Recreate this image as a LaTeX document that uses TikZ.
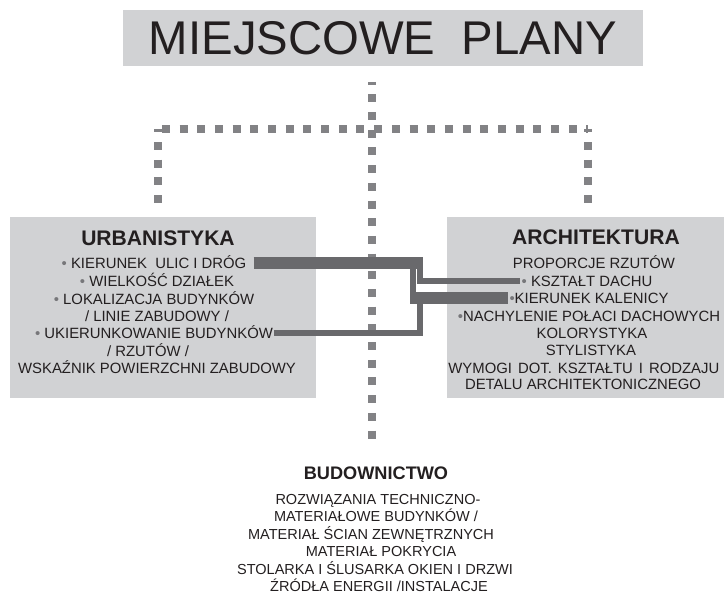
\documentclass[tikz,border=0pt]{standalone}
\usepackage{fontspec}
\setmainfont{Liberation Sans}
\usepackage{xcolor}
\usetikzlibrary{calc}

\definecolor{panelgray}{HTML}{D1D2D4}
\definecolor{dotgray}{HTML}{828285}
\definecolor{bargray}{HTML}{69696C}
\definecolor{inkgray}{HTML}{231F20}
\definecolor{bulletgray}{HTML}{77777A}
\newcommand{\pxu}{0.03cm}
\newcommand{\bul}{{\color{bulletgray}\textbullet}}
\newcommand{\wsp}{\ \hspace{1.6pt}}

\tikzset{
  panel/.style={fill=panelgray, inner sep=0pt},
  headline/.style={font=\fontsize{18}{20}\selectfont\bfseries, text=inkgray, text height=12.9pt, text depth=0pt, inner sep=0pt},
  itemline/.style={font=\fontsize{12.7}{14}\selectfont, text=inkgray, text height=9.1pt, text depth=0pt, inner sep=1pt},
  budline/.style={itemline, font=\fontsize{12.4}{14}\selectfont, text height=8.9pt},
  dotline/.style={dotgray, line width=6.8pt, dash pattern=on 6.8pt off 8.3pt},
  bar/.style={bargray, line width=5.1pt},
  thickbar/.style={bargray, line width=10.2pt},
}

\begin{document}
\begin{tikzpicture}[x=\pxu, y=-\pxu]
    \useasboundingbox (0,0) rectangle (724,594);
    \clip (0,0) rectangle (724,594);

    % title and panels
    \node[panel, minimum width=520*\pxu, minimum height=56*\pxu, text=inkgray, font=\fontsize{40.4}{44}\selectfont, text height=28.9pt, text depth=0pt] (title) at (383,38) {MIEJSCOWE\hspace{0.556em}PLANY};
    \node[panel, minimum width=306*\pxu, minimum height=181*\pxu] (urb) at (163,307.5) {};
    \node[panel, minimum width=283*\pxu, minimum height=181*\pxu] (arch) at (588.5,307.5) {};

    % dotted tree
    \coordinate (spineTop) at (372,82);
    \coordinate (spineEnd) at (372,441);
    \coordinate (railL) at (158,129);
    \coordinate (railR) at (588,129);
    \coordinate (dropL) at (158,204);
    \coordinate (dropR) at (588,204);
    \draw[dotline, dash phase=4.5pt] (spineTop) -- (spineEnd);
    \draw[dotline, dash phase=11.8pt] (railL) -- (railR);
    \draw[dotline, dash phase=4pt] (railL) -- (dropL);
    \draw[dotline, dash phase=4pt] (railR) -- (dropR);

    % urbanistyka
    \node[headline] (urbh) at (158,238) {URBANISTYKA};
    \node[itemline] (ulic) at (154,263) {\bul\ KIERUNEK\ \ ULIC I DRÓG};
    \node[itemline] (dzialki) at (157,281) {\bul\ WIELKOŚĆ DZIAŁEK};
    \node[itemline] (lokal) at (154,299) {\bul\ LOKALIZACJA BUDYNKÓW};
    \node[itemline] (linie) at (157,316) {/ LINIE ZABUDOWY /};
    \node[itemline] (ukier) at (154,333) {\bul\ UKIERUNKOWANIE BUDYNKÓW};
    \node[itemline] (rzuty) at (148,351) {/ RZUTÓW /};
    \node[itemline] (wskaz) at (157,368) {WSKAŹNIK POWIERZCHNI ZABUDOWY};

    % architektura
    \node[headline] (archh) at (596,237) {ARCHITEKTURA};
    \node[itemline] (proporcje) at (594,263) {PROPORCJE RZUTÓW};
    \node[itemline] (dach) at (587,281) {\bul\ KSZTAŁT DACHU};
    \node[itemline] (kalenica) at (589,298) {\bul KIERUNEK KALENICY};
    \node[itemline] (nachyl) at (589,316) {\bul NACHYLENIE POŁACI DACHOWYCH};
    \node[itemline] (kolor) at (592,333) {KOLORYSTYKA};
    \node[itemline] (styl) at (591,350) {STYLISTYKA};
    \node[itemline, anchor=west] (wymogi) at (447,368) {WYMOGI\wsp DOT.\wsp KSZTAŁTU\wsp I\wsp RODZAJU};
    \node[itemline] (detal) at (583,384) {DETALU ARCHITEKTONICZNEGO};

    % budownictwo
    \node[headline, font=\fontsize{15.5}{18}\selectfont\bfseries, text height=11.1pt] (budh) at (376,473) {BUDOWNICTWO};
    \node[budline] (bud1) at (378,499) {ROZWIĄZANIA TECHNICZNO-};
    \node[budline] (bud2) at (376,516) {MATERIAŁOWE BUDYNKÓW /};
    \node[budline] (bud3) at (371,534) {MATERIAŁ ŚCIAN ZEWNĘTRZNYCH};
    \node[budline] (bud4) at (381,551) {MATERIAŁ POKRYCIA};
    \node[budline] (bud5) at (375,569) {STOLARKA I ŚLUSARKA OKIEN I DRZWI};
    \node[budline] (bud6) at (379,586) {ŹRÓDŁA ENERGII /INSTALACJE};

    % connectors
    \coordinate (kneeL) at (413,0);
    \coordinate (kneeR) at (420,0);
    \coordinate (barStart) at (410,0);
    \coordinate (barEnd) at (423,0);
    \draw[bar] (ulic.east -| kneeR) |- (dach.west);
    \draw[bar] (ulic.east -| kneeL) -- (kalenica.west -| kneeL);
    \draw[bar] (ukier.east) -| (kalenica.west -| kneeR);
    \draw[thickbar, shorten <=5pt] (ulic.east) -- (ulic.east -| barEnd);
    \draw[thickbar] (kalenica.west -| barStart) -- (kalenica.west);
\end{tikzpicture}
\end{document}
